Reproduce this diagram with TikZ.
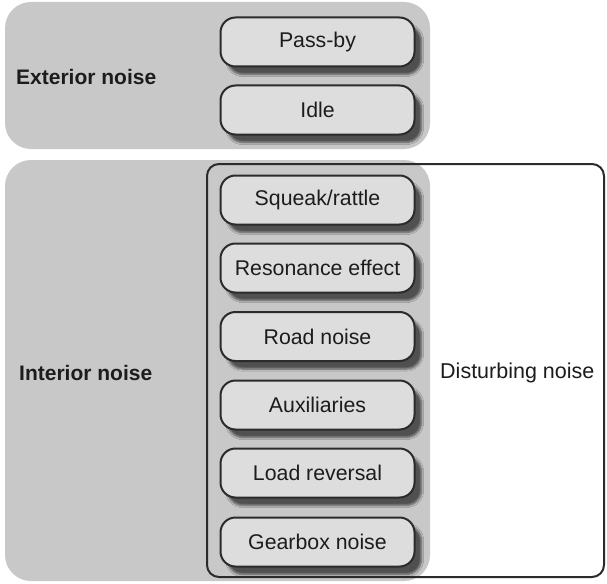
\documentclass[tikz,border=0pt]{standalone}
\usepackage{fontspec}
\setmainfont{Liberation Sans}
\usetikzlibrary{shadows.blur}
\definecolor{panelgray}{HTML}{C8C8C9}
\definecolor{itemfill}{HTML}{DDDDDE}
\definecolor{edgeclr}{HTML}{2B2B2B}
\definecolor{txtclr}{HTML}{1C1C1C}
\tikzset{
  panel/.style={fill=panelgray, draw=none, rounded corners=26pt},
  itembox/.style={draw=edgeclr, line width=2pt, fill=itemfill, rounded corners=15pt,
    minimum width=194pt, minimum height=49pt, inner sep=0pt,
    font=\fontsize{21.3}{25}\selectfont, text=txtclr,
    blur shadow={shadow xshift=7pt, shadow yshift=-8pt, shadow blur steps=6,
      shadow blur extra rounding=2pt, shadow opacity=60}},
  grouplabel/.style={font=\fontsize{21}{25}\selectfont\bfseries, text=txtclr, anchor=west, inner sep=0pt},
  plainlabel/.style={font=\fontsize{21.5}{25}\selectfont, text=txtclr, anchor=west, inner sep=0pt},
  framebox/.style={draw=edgeclr, line width=2pt, rounded corners=12pt}
}
\begin{document}
\begin{tikzpicture}[x=1pt,y=-1pt]
  \useasboundingbox (0,0) rectangle (607,583);
  % grey group panels
  \fill[panel] (5,2) rectangle (430,149);
  \fill[panel] (5,160) rectangle (430,581);
  % frame of the disturbing-noise group
  \draw[framebox] (207,164) rectangle (604,577);
  % group labels
  \node[grouplabel] (ext) at (16,77) {Exterior noise};
  \node[grouplabel] (int) at (19,373) {Interior noise};
  \node[plainlabel] (dist) at (440,373) {Disturbing noise};
  % items
  \node[itembox] (pass) at (317.5,42) {Pass-by};
  \node[itembox] (idle) at (317.5,110) {Idle};
  \node[itembox] (sq) at (317.5,200) {Squeak/rattle};
  \node[itembox] (res) at (317.5,268) {Resonance effect};
  \node[itembox] (road) at (317.5,336.5) {Road noise};
  \node[itembox] (aux) at (317.5,405) {Auxiliaries};
  \node[itembox] (load) at (317.5,473) {Load reversal};
  \node[itembox] (gear) at (317.5,542) {Gearbox noise};
\end{tikzpicture}
\end{document}
